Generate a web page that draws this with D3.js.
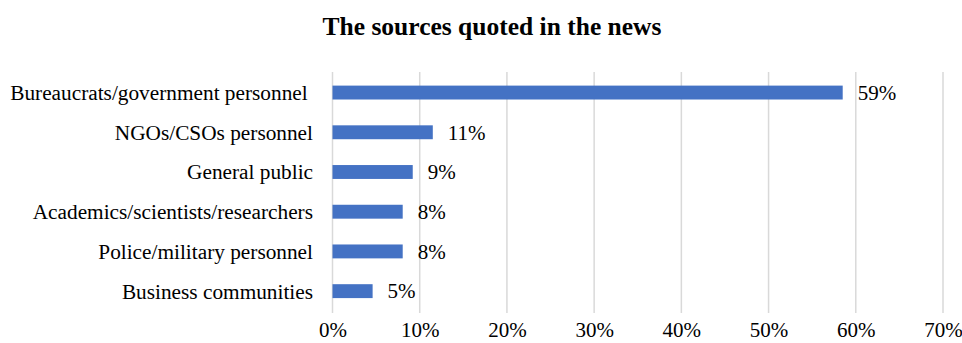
<!DOCTYPE html>
<html lang="en">
<head>
    <meta charset="UTF-8">
    <script src="https://d3js.org/d3.v7.min.js"></script>
    <title>sources quoted</title>
    <style>
        body { margin: 0; background: #fff; }
        text { font-family: "Liberation Serif", "Times New Roman", serif; fill: #000; }
        .grid line { stroke: #d9d9d9; stroke-width: 1.5; }
    </style>
</head>
<body>
    <svg width="962" height="343"></svg>
    <script>
        // data
        var categories = ["Bureaucrats/government personnel ", "NGOs/CSOs personnel", "General public",
                          "Academics/scientists/researchers", "Police/military personnel", "Business communities"];
        var values = [58.5, 11.5, 9.2, 8.05, 8.05, 4.6];
        var valueLabels = ["59%", "11%", "9%", "8%", "8%", "5%"];
        var tickValues = [0, 10, 20, 30, 40, 50, 60, 70];

        var svg = d3.select("svg");

        var x = d3.scaleLinear()
                  .domain([0, 70])
                  .range([332.5, 943]);

        var y = d3.scaleBand()
                  .domain(categories)
                  .range([72.7, 311])
                  .paddingInner(0.65)
                  .paddingOuter(0.325);

        // title
        svg.append("text")
           .attr("x", 492)
           .attr("y", 35)
           .attr("text-anchor", "middle")
           .style("font-size", "25.5px")
           .style("font-weight", "bold")
           .text("The sources quoted in the news");

        // vertical gridlines
        svg.append("g")
           .attr("class", "grid")
           .selectAll("line")
           .data(tickValues)
           .enter().append("line")
           .attr("x1", function(d) { return x(d); })
           .attr("x2", function(d) { return x(d); })
           .attr("y1", 72)
           .attr("y2", 313);

        // x tick labels
        var xAxis = d3.axisBottom(x)
                      .tickValues(tickValues)
                      .tickSize(0)
                      .tickPadding(0)
                      .tickFormat(function(d) { return d + "%"; });

        var xg = svg.append("g")
                    .attr("transform", "translate(0,322)")
                    .call(xAxis);
        xg.select(".domain").remove();
        xg.selectAll("text")
          .attr("dy", "0.71em")
          .style("font-size", "21px")
          .style("font-family", "Liberation Serif, serif");

        // bars
        svg.append("g")
           .selectAll("rect")
           .data(values)
           .enter().append("rect")
           .attr("x", x(0))
           .attr("y", function(d, i) { return y(categories[i]); })
           .attr("width", function(d) { return x(d) - x(0); })
           .attr("height", y.bandwidth())
           .attr("fill", "#4472c4");

        // value labels
        svg.append("g")
           .selectAll("text")
           .data(values)
           .enter().append("text")
           .attr("x", function(d) { return x(d) + 15; })
           .attr("y", function(d, i) { return y(categories[i]) + y.bandwidth() / 2; })
           .attr("dy", "0.35em")
           .style("font-size", "21px")
           .text(function(d, i) { return valueLabels[i]; });

        // category labels
        svg.append("g")
           .selectAll("text")
           .data(categories)
           .enter().append("text")
           .attr("x", 313)
           .attr("y", function(d) { return y(d) + y.bandwidth() / 2; })
           .attr("dy", "0.35em")
           .attr("text-anchor", "end")
           .style("font-size", "21.3px")
           .style("white-space", "pre")
           .text(function(d) { return d; });
    </script>
</body>
</html>
